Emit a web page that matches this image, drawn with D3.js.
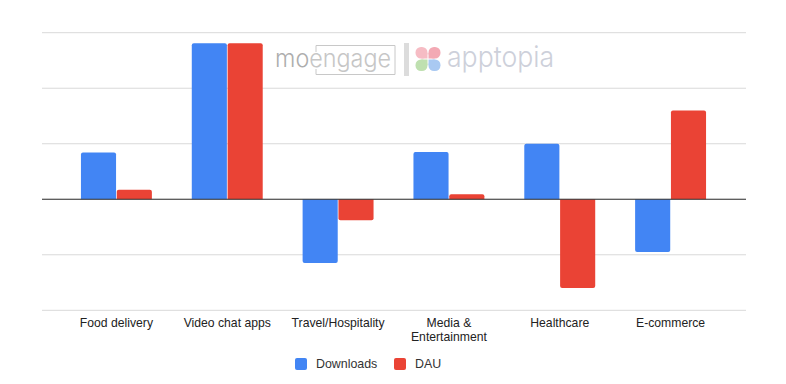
<!DOCTYPE html>
<html>
<head>
<meta charset="utf-8">
<script src="https://cdn.jsdelivr.net/npm/d3@7"></script>
<style>
html, body { margin: 0; padding: 0; background: #fff; }
text { font-family: "Liberation Sans", Arial, sans-serif; }
</style>
</head>
<body>
<div id="chart"></div>
<script>
var w = 786;
var h = 384;

// no value axis in the picture, so values are in units where one gridline = 50
var categories = ["Food delivery", "Video chat apps", "Travel/Hospitality", "Media & Entertainment", "Healthcare", "E-commerce"];
var downloads = [42, 140.5, -57.5, 42.5, 50, -47.5];
var dau = [8.5, 140.5, -19, 4.5, -80, 80];
var gridTicks = [-100, -50, 0, 50, 100, 150];
var seriesNames = ["Downloads", "DAU"];
var seriesColors = ["#4285f4", "#ea4335"];

var svg = d3.select("#chart")
	.append("svg")
	.attr("width", w)
	.attr("height", h)
	.style("display", "block");

var x = d3.scaleBand()
	.domain(categories)
	.range([61, 726])
	.paddingInner(0.36)
	.paddingOuter(0.18);

var xInner = d3.scaleBand()
	.domain(seriesNames)
	.range([0, x.bandwidth()])
	.paddingInner(0.02);

var y = d3.scaleLinear()
	.domain([-100, 150])
	.range([310.3, 32.7]);

//gridlines
var grid = svg.append("g")
	.attr("transform", "translate(42,0)")
	.call(d3.axisLeft(y).offset(0).tickValues(gridTicks).tickSize(-704).tickFormat(""));
grid.select(".domain").remove();
grid.selectAll("line").attr("stroke", "#d9d9d9").attr("stroke-width", 1);

//logo watermark, sits on top of the gridlines
var logo = svg.append("g");
var moengage = logo.append("text")
	.attr("x", 275).attr("y", 67)
	.attr("font-size", 24)
	.attr("textLength", 116)
	.attr("lengthAdjust", "spacingAndGlyphs")
	.style("font-family", "Inter")
	.style("font-weight", 300);
moengage.append("tspan").attr("fill", "#adadad").text("mo");
moengage.append("tspan").attr("fill", "#c6c6c6").text("engage");
logo.append("path")
	.attr("d", "M316,52V45.5H395V74.5H316V69")
	.attr("fill", "none")
	.attr("stroke", "#c8c8c8");
logo.append("rect")
	.attr("x", 404).attr("y", 43).attr("width", 5).attr("height", 33)
	.attr("fill", "#dcdcdc");
var petals = [
	{ dx: -1, dy: -1, c: "#f6bcc4" },
	{ dx: 1, dy: -1, c: "#f3a9b4" },
	{ dx: -1, dy: 1, c: "#bfe0b0" },
	{ dx: 1, dy: 1, c: "#a9c9f2" }
];
var petal = logo.selectAll("g.petal")
	.data(petals)
	.enter()
	.append("g")
	.attr("class", "petal")
	.attr("fill", function(d) { return d.c; });
petal.append("rect")
	.attr("x", function(d) { return 428 + (d.dx < 0 ? -12.5 : 0.5); })
	.attr("y", function(d) { return 59 + (d.dy < 0 ? -12 : 0.5); })
	.attr("width", 12)
	.attr("height", 11.5)
	.attr("rx", 5.5);
petal.append("rect")
	.attr("x", function(d) { return 428 + (d.dx < 0 ? -6.5 : 0.5); })
	.attr("y", function(d) { return 59 + (d.dy < 0 ? -6 : 0.5); })
	.attr("width", 6)
	.attr("height", 5.5);
logo.append("text")
	.attr("x", 447).attr("y", 67)
	.attr("font-size", 29)
	.attr("textLength", 107)
	.attr("lengthAdjust", "spacingAndGlyphs")
	.style("font-family", "Inter")
	.style("font-weight", 300)
	.attr("fill", "#cdd0da")
	.text("apptopia");

//bar with rounded corners on the far end only
function barPath(x0, bw, v) {
	var y0 = y(0);
	var y1 = y(v);
	var r = 2;
	var s = v >= 0 ? 1 : -1;
	return "M" + x0 + "," + y0 +
		"V" + (y1 + s * r) +
		"Q" + x0 + "," + y1 + " " + (x0 + r) + "," + y1 +
		"H" + (x0 + bw - r) +
		"Q" + (x0 + bw) + "," + y1 + " " + (x0 + bw) + "," + (y1 + s * r) +
		"V" + y0 + "Z";
}

[downloads, dau].forEach(function(values, s) {
	svg.append("g")
		.selectAll("path")
		.data(values)
		.enter()
		.append("path")
		.attr("fill", seriesColors[s])
		.attr("d", function(d, i) {
			return barPath(x(categories[i]) + xInner(seriesNames[s]), xInner.bandwidth(), d);
		});
});

//zero line
svg.append("line")
	.attr("x1", 42).attr("x2", 746)
	.attr("y1", y(0)).attr("y2", y(0))
	.attr("stroke", "#333")
	.attr("stroke-width", 1);

//category labels
var xAxis = svg.append("g")
	.attr("transform", "translate(0,310)")
	.call(d3.axisBottom(x).tickSize(0).tickPadding(8));
xAxis.select(".domain").remove();
xAxis.selectAll("text")
	.attr("font-size", 12.2)
	.attr("fill", "#222")
	.style("font-family", '"Liberation Sans", Arial, sans-serif')
	.each(function(d) {
		if (d !== "Media & Entertainment") return;
		var t = d3.select(this);
		var ty = t.attr("y");
		t.text(null);
		t.append("tspan").attr("x", 0).attr("y", ty).attr("dy", "0.71em").text("Media &");
		t.append("tspan").attr("x", 0).attr("y", ty).attr("dy", "1.87em").text("Entertainment");
	});

//legend
var legendX = [295, 394];
var legend = svg.selectAll("g.legend")
	.data(seriesNames)
	.enter()
	.append("g")
	.attr("class", "legend")
	.attr("transform", function(d, i) { return "translate(" + legendX[i] + ",358)"; });
legend.append("rect")
	.attr("width", 12)
	.attr("height", 12)
	.attr("rx", 2)
	.attr("fill", function(d, i) { return seriesColors[i]; });
legend.append("text")
	.attr("x", 21)
	.attr("y", 10.4)
	.attr("font-size", 12.4)
	.attr("fill", "#333")
	.text(function(d) { return d; });
</script>
</body>
</html>
